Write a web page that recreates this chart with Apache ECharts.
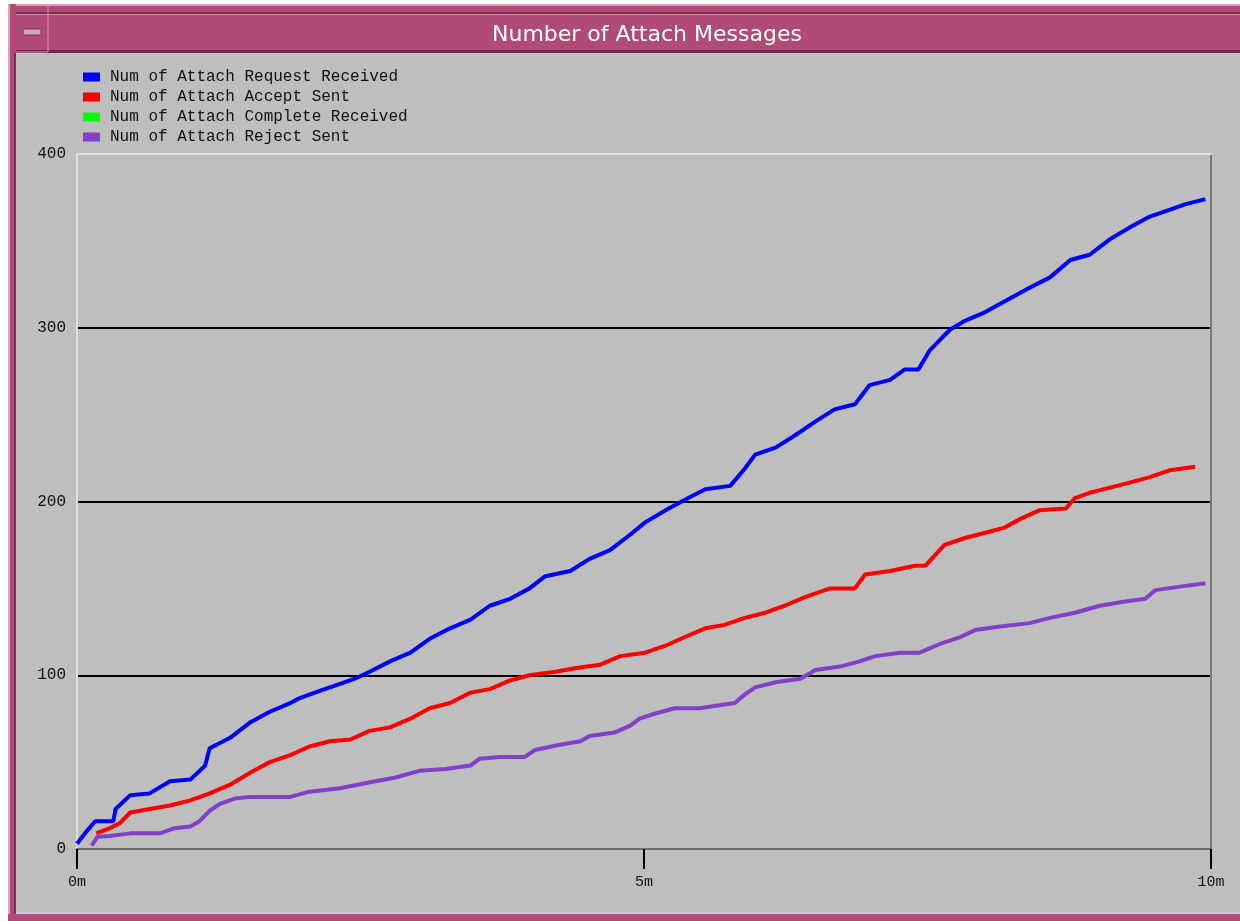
<!DOCTYPE html>
<html>
<head>
<meta charset="utf-8">
<script src="https://cdn.jsdelivr.net/npm/echarts@6/dist/echarts.min.js"></script>
<style>
html, body { margin: 0; padding: 0; background: #ffffff; }
#mainChart { width: 1240px; height: 921px; }
</style>
</head>
<body>
<div id="mainChart"></div>
<script>
// legend names
var names = ['Num of Attach Request Received', 'Num of Attach Accept Sent',
    'Num of Attach Complete Received', 'Num of Attach Reject Sent'];
var xTicks = ['0m', '5m', '10m'];

// Request received (blue), time in minutes
var reqT = [0, 0.07, 0.16, 0.32, 0.34, 0.47, 0.64, 0.82, 1.0, 1.13, 1.17, 1.35, 1.53, 1.70, 1.88, 1.97,
    2.14, 2.32, 2.45, 2.58, 2.76, 2.94, 3.11, 3.29, 3.47, 3.64, 3.82, 3.99, 4.13, 4.35, 4.52, 4.70,
    4.88, 5.01, 5.19, 5.36, 5.54, 5.76, 5.89, 5.98, 6.16, 6.33, 6.51, 6.68, 6.86, 6.99, 7.17, 7.30,
    7.42, 7.52, 7.70, 7.83, 8.01, 8.23, 8.40, 8.58, 8.76, 8.93, 9.11, 9.29, 9.46, 9.64, 9.77, 9.95];
var reqV = [3, 9, 16, 16, 23, 31, 32, 39, 40, 48, 58, 64, 73, 79, 84, 87,
    91, 95, 98, 102, 108, 113, 121, 127, 132, 140, 144, 150, 157, 160, 167, 172,
    181, 188, 195, 201, 207, 209, 219, 227, 231, 238, 246, 253, 256, 267, 270, 276,
    276, 287, 299, 304, 309, 317, 323, 329, 339, 342, 351, 358, 364, 368, 371, 374];

// Accept sent (red)
var accT = [0.17, 0.29, 0.38, 0.47, 0.64, 0.82, 1.0, 1.17, 1.35, 1.53, 1.70, 1.88, 2.05, 2.23, 2.41,
    2.58, 2.76, 2.94, 3.11, 3.29, 3.47, 3.64, 3.82, 3.99, 4.22, 4.39, 4.61, 4.79, 5.01, 5.19, 5.36,
    5.54, 5.71, 5.89, 6.07, 6.24, 6.42, 6.64, 6.86, 6.95, 7.17, 7.39, 7.48, 7.65, 7.83, 8.01, 8.18,
    8.32, 8.49, 8.72, 8.80, 8.93, 9.11, 9.29, 9.46, 9.64, 9.86];
var accV = [9, 12, 15, 21, 23, 25, 28, 32, 37, 44, 50, 54, 59, 62, 63,
    68, 70, 75, 81, 84, 90, 92, 97, 100, 102, 104, 106, 111, 113, 117, 122,
    127, 129, 133, 136, 140, 145, 150, 150, 158, 160, 163, 163, 175, 179, 182, 185,
    190, 195, 196, 202, 205, 208, 211, 214, 218, 220];

// Complete received (green) - nothing visible in the picture
var cmpT = [];
var cmpV = [];

// Reject sent (purple)
var rejT = [0.13, 0.18, 0.29, 0.47, 0.73, 0.86, 1.0, 1.08, 1.17, 1.26, 1.39, 1.53, 1.88, 2.05, 2.32,
    2.63, 2.80, 3.02, 3.25, 3.47, 3.55, 3.73, 3.95, 4.04, 4.26, 4.44, 4.52, 4.74, 4.88, 4.96, 5.10,
    5.27, 5.49, 5.80, 5.89, 5.98, 6.16, 6.38, 6.51, 6.73, 6.90, 7.04, 7.26, 7.43, 7.61, 7.79, 7.92,
    8.14, 8.40, 8.58, 8.80, 9.02, 9.20, 9.42, 9.51, 9.73, 9.95];
var rejV = [2, 7, 7.5, 9, 9, 12, 13, 16, 22, 26, 29, 30, 30, 33, 35,
    39, 41, 45, 46, 48, 52, 53, 53, 57, 60, 62, 65, 67, 71, 75, 78,
    81, 81, 84, 89, 93, 96, 98, 103, 105, 108, 111, 113, 113, 118, 122, 126,
    128, 130, 133, 136, 140, 142, 144, 149, 151, 153];

var colors = ['#0000ff', '#ff0000', '#00ff00', '#8040c8'];
var pink = '#b04c74';
var monoFont = '"Liberation Mono", "DejaVu Sans Mono", monospace';

function zip(t, v) {
    var out = [];
    for (var i = 0; i < t.length; i++) {
        out.push([t[i], v[i]]);
    }
    return out;
}

function lineSeries(idx, t, v) {
    return {
        name: names[idx],
        type: 'line',
        data: zip(t, v),
        showSymbol: false,
        smooth: false,
        animation: false,
        itemStyle: { color: colors[idx] },
        lineStyle: { color: colors[idx], width: 4 }
    };
}

var option = {
    backgroundColor: '#bebebe',
    animation: false,
    color: colors,
    title: {
        text: 'Number of Attach Messages',
        left: 487,
        top: 19,
        textStyle: {
            color: '#ffffff',
            fontFamily: '"DejaVu Sans", sans-serif',
            fontWeight: 'normal',
            fontSize: 22
        }
    },
    legend: {
        orient: 'vertical',
        left: 83,
        top: 69,
        padding: 0,
        itemWidth: 17,
        itemHeight: 9,
        itemGap: 4,
        icon: 'rect',
        data: names,
        textStyle: {
            fontFamily: monoFont,
            fontSize: 16,
            lineHeight: 16,
            color: '#111111',
            padding: [0, 0, 0, 5]
        }
    },
    grid: {
        left: 77,
        right: 29,
        top: 154,
        bottom: 72
    },
    xAxis: [
        {
            type: 'value',
            min: 0,
            max: 10,
            interval: 5,
            position: 'bottom',
            axisLine: { show: true, onZero: false, lineStyle: { color: '#6e6e6e', width: 2 } },
            axisTick: { show: true, length: 20, lineStyle: { color: '#000000', width: 2 } },
            axisLabel: {
                margin: 26,
                color: '#111111',
                fontFamily: monoFont,
                fontSize: 15,
                formatter: function (val) { return xTicks[Math.round(val / 5)]; }
            },
            splitLine: { show: false }
        },
        {
            type: 'value',
            min: 0,
            max: 10,
            position: 'top',
            axisLine: { show: true, onZero: false, lineStyle: { color: '#dedede', width: 2 } },
            axisTick: { show: false },
            axisLabel: { show: false },
            splitLine: { show: false }
        }
    ],
    yAxis: [
        {
            type: 'value',
            min: 0,
            max: 400,
            interval: 100,
            position: 'left',
            axisLine: { show: true, onZero: false, lineStyle: { color: '#dedede', width: 2 } },
            axisTick: { show: false },
            axisLabel: {
                margin: 11,
                color: '#111111',
                fontFamily: monoFont,
                fontSize: 16
            },
            splitLine: {
                show: true,
                showMinLine: false,
                showMaxLine: false,
                lineStyle: { color: '#000000', width: 2 }
            }
        },
        {
            type: 'value',
            min: 0,
            max: 400,
            position: 'right',
            axisLine: { show: true, onZero: false, lineStyle: { color: '#7a7a7a', width: 2 } },
            axisTick: { show: false },
            axisLabel: { show: false },
            splitLine: { show: false }
        }
    ],
    graphic: [
        // white margin round the window
        { type: 'rect', shape: { x: 0, y: 0, width: 1240, height: 4 }, style: { fill: '#ffffff' } },
        { type: 'rect', shape: { x: 0, y: 0, width: 8, height: 921 }, style: { fill: '#ffffff' } },
        // title bar
        { type: 'rect', shape: { x: 8, y: 4, width: 1232, height: 49 }, style: { fill: pink } },
        { type: 'rect', shape: { x: 8, y: 4, width: 1232, height: 2 }, style: { fill: '#dca4bc' } },
        { type: 'rect', shape: { x: 8, y: 12, width: 1232, height: 2 }, style: { fill: '#7c3052' } },
        { type: 'rect', shape: { x: 8, y: 14, width: 1232, height: 1 }, style: { fill: '#d08aa8' } },
        { type: 'rect', shape: { x: 8, y: 50, width: 1232, height: 3 }, style: { fill: '#6e2a48' } },
        // minimize button
        { type: 'rect', shape: { x: 10, y: 5, width: 38, height: 47 }, style: { fill: 'none', stroke: '#d894b2', lineWidth: 1 } },
        { type: 'rect', shape: { x: 23, y: 29, width: 18, height: 6 }, style: { fill: '#dca4bc', stroke: '#7c3052', lineWidth: 1 } },
        // left border
        { type: 'rect', shape: { x: 8, y: 4, width: 8, height: 917 }, style: { fill: pink } },
        { type: 'rect', shape: { x: 8, y: 4, width: 2, height: 917 }, style: { fill: '#dca4bc' } },
        { type: 'rect', shape: { x: 14, y: 53, width: 2, height: 862 }, style: { fill: '#7c3052' } },
        // bottom border
        { type: 'rect', shape: { x: 16, y: 912, width: 1224, height: 2 }, style: { fill: '#c6c6dc' } },
        { type: 'rect', shape: { x: 8, y: 914, width: 1232, height: 7 }, style: { fill: pink } }
    ],
    series: [
        lineSeries(2, cmpT, cmpV),
        lineSeries(0, reqT, reqV),
        lineSeries(1, accT, accV),
        lineSeries(3, rejT, rejV)
    ]
};

var summaryChart = echarts.init(document.getElementById('mainChart'));
summaryChart.setOption(option);
window.onresize = function () {
    summaryChart.resize();
};
</script>
</body>
</html>
